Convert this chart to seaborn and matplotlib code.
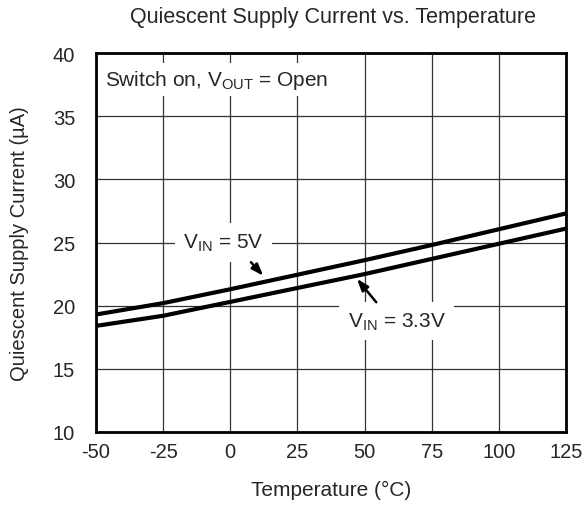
import matplotlib
matplotlib.use("Agg")
import matplotlib.pyplot as plt
import seaborn as sns
import pandas as pd

temps = [-50, -25, 0, 25, 50, 75, 100, 125]
i_5v = [19.3, 20.2, 21.3, 22.45, 23.6, 24.8, 26.05, 27.3]
i_3v3 = [18.4, 19.2, 20.3, 21.4, 22.5, 23.7, 24.9, 26.1]
xticks = [-50, -25, 0, 25, 50, 75, 100, 125]
yticks = [10, 15, 20, 25, 30, 35, 40]

df = pd.DataFrame({
    "Temperature": temps * 2,
    "Current": i_5v + i_3v3,
    "Vin": ["5V"] * len(temps) + ["3.3V"] * len(temps),
})

sns.set_style("white")
plt.rcParams['font.family'] = ['Liberation Sans', 'DejaVu Sans']
plt.rcParams['mathtext.fontset'] = 'custom'
plt.rcParams['mathtext.rm'] = 'Liberation Sans'

fig = plt.figure(figsize=(5.87, 5.10), dpi=100)
ax = fig.add_axes([96/587, 1 - 433/510, (566-96)/587, (433-54)/510])

sns.lineplot(data=df, x="Temperature", y="Current", hue="Vin",
             palette={"5V": "black", "3.3V": "black"}, linewidth=3,
             legend=False, ax=ax, zorder=3)

FS = 15
TFS = 14.5
ax.set_xlim(-50, 125)
ax.set_ylim(10, 40)
ax.set_xticks(xticks)
ax.set_yticks(yticks)
ax.set_xticklabels([str(t) for t in xticks], fontsize=TFS)
ax.set_yticklabels([str(t) for t in yticks], fontsize=TFS)
ax.tick_params(axis="x", length=0, pad=7)
ax.tick_params(axis="y", length=0, pad=15)
ax.grid(True, color="#333333", linewidth=0.9)
for s in ax.spines.values():
    s.set_visible(True)
    s.set_color("black")
    s.set_linewidth(2)

ax.set_xlabel("Temperature (\u00b0C)", fontsize=FS)
ax.set_ylabel("Quiescent Supply Current (\u00b5A)", fontsize=14.5)
ax.yaxis.set_label_coords(-(96-20)/470, 0.5)
ax.xaxis.set_label_coords(0.5, -(490-433)/379)
ax.xaxis.label.set_va("center")
ax.yaxis.label.set_va("center")
fig.text(332.5/587, 1 - 17/510, "Quiescent Supply Current vs. Temperature",
         ha="center", va="center", fontsize=15.5)

ax.text(-46.5, 37.9, r"Switch on, V$_{\mathrm{OUT}}$ = Open", fontsize=FS,
        ha="left", va="center", bbox=dict(boxstyle="square,pad=0.25", fc="white", ec="none"), zorder=4)
ax.text(-2.5, 25.0, r"V$_{\mathrm{IN}}$ = 5V", fontsize=FS,
        ha="center", va="center", bbox=dict(boxstyle="square,pad=0.4", fc="white", ec="none"), zorder=4)
ax.text(62, 18.8, r"V$_{\mathrm{IN}}$ = 3.3V", fontsize=FS,
        ha="center", va="center", bbox=dict(boxstyle="square,pad=0.4", fc="white", ec="none"), zorder=4)

ax.annotate("", xy=(13, 22.2), xytext=(7, 23.6),
            arrowprops=dict(arrowstyle="-|>,head_length=0.7,head_width=0.25", color="black", lw=1.8), zorder=5)
ax.annotate("", xy=(46.5, 22.3), xytext=(55, 20.1),
            arrowprops=dict(arrowstyle="-|>,head_length=0.7,head_width=0.25", color="black", lw=1.8), zorder=5)

fig.savefig("out.png", dpi=100)
